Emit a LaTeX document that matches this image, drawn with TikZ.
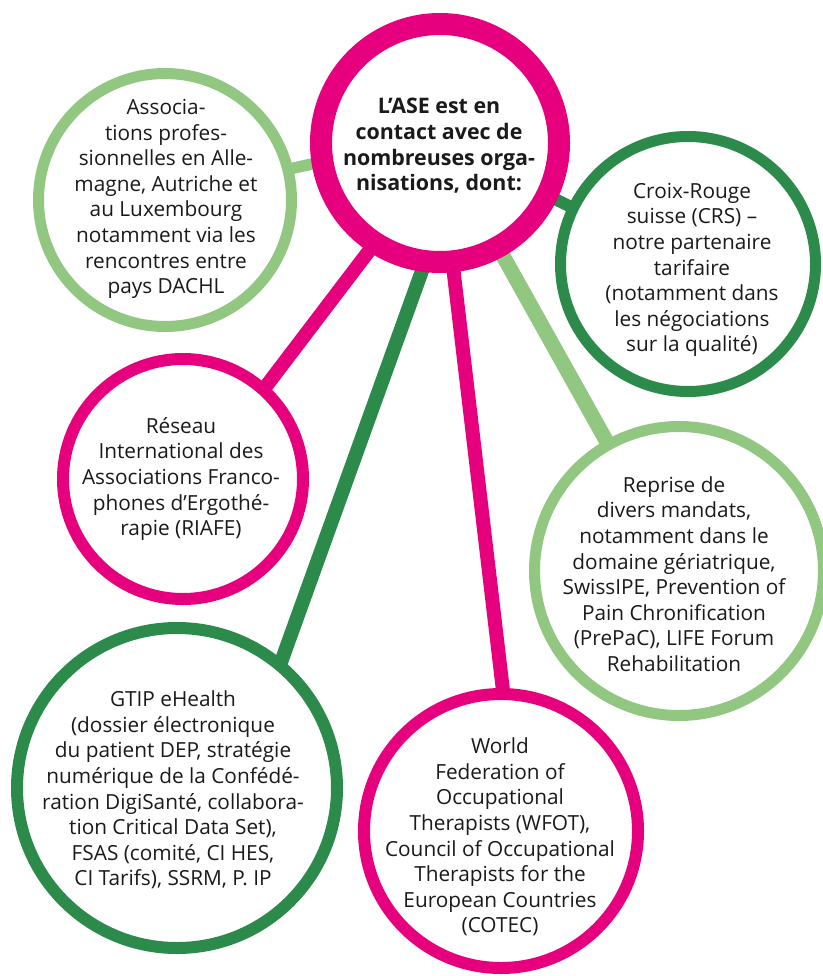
\documentclass[tikz,border=0pt]{standalone}
\usepackage{fontspec}
\setmainfont{Open Sans}
\definecolor{mag}{RGB}{230,0,126}
\definecolor{dgreen}{RGB}{44,139,74}
\definecolor{lgreen}{RGB}{145,199,129}
\definecolor{ink}{RGB}{26,26,26}
\pgfdeclarelayer{bg}
\pgfsetlayers{bg,main}
\begin{document}
\begin{tikzpicture}[x=1pt,y=-1pt,
  ring/.style={circle, fill=white, inner sep=0pt, outer sep=0pt},
  txt/.style={align=center, font=\fontsize{20.8}{25.6}\selectfont, text=ink, inner sep=0pt},
  btxt/.style={txt, font=\fontsize{21.4}{25.7}\selectfont\bfseries},
  link/.style={line width=#1, line cap=butt}]
\useasboundingbox (0,0) rectangle (822,976);

% circles
\node[ring, draw=mag, line width=22pt, minimum size=238pt] (C) at (440,143) {};
\node[ring, draw=lgreen, line width=11pt, minimum size=253pt] (TL) at (165,200) {};
\node[ring, draw=dgreen, line width=11pt, minimum size=255pt] (RDG) at (688,264) {};
\node[ring, draw=mag, line width=12pt, minimum size=240pt] (LM) at (183,479) {};
\node[ring, draw=lgreen, line width=11pt, minimum size=289pt] (RLG) at (679,571) {};
\node[ring, draw=dgreen, line width=12pt, minimum size=320pt] (BL) at (177,788) {};
\node[ring, draw=mag, line width=12pt, minimum size=274pt] (BM) at (501,831) {};

% connectors
\begin{pgfonlayer}{bg}
\draw[lgreen, link=11.5pt] (C.189) -- (TL.14);
\draw[dgreen, link=12pt] (C.center) -- (RDG.center);
\draw[mag, link=14pt] (C.237) -- (LM.48);
\draw[lgreen, link=15pt] (C.center) -- (RLG.center);
\draw[dgreen, link=14pt] (C.263) -- (BL.50);
\draw[mag, link=14pt] (C.276) -- (BM.89);
\end{pgfonlayer}

% texts
\node[btxt] (Ct) at (439,146) {L’ASE est en\\contact avec de\\nombreuses orga-\\nisations, dont:};
\node[txt] (TLt) at (166,199) {Associa-\\tions profes-\\sionnelles en Alle-\\magne, Autriche et\\au Luxembourg\\notamment via les\\rencontres entre\\pays DACHL};
\node[txt] (RDGt) at (692,270) {Croix-Rouge\\suisse (CRS) –\\notre partenaire\\tarifaire\\(notamment dans\\les négociations\\sur la qualité)};
\node[txt] (LMt) at (181,479) {Réseau\\International des\\Associations Franco-\\phones d’Ergothé-\\rapie (RIAFE)};
\node[txt] (RLGt) at (674,574) {Reprise de\\divers mandats,\\notamment dans le\\domaine gériatrique,\\SwissIPE, Prevention of\\Pain Chronification\\(PrePaC), LIFE Forum\\Rehabilitation};
\node[txt] (BLt) at (173,790) {GTIP eHealth\\(dossier électronique\\du patient DEP, stratégie\\numérique de la Confédé-\\ration DigiSanté, collabora-\\tion Critical Data Set),\\FSAS (comité, CI HES,\\CI Tarifs), SSRM, P. IP};
\node[txt] (BMt) at (500,837) {World\\Federation of\\Occupational\\Therapists (WFOT),\\Council of Occupational\\Therapists for the\\European Countries\\(COTEC)};
\end{tikzpicture}
\end{document}
